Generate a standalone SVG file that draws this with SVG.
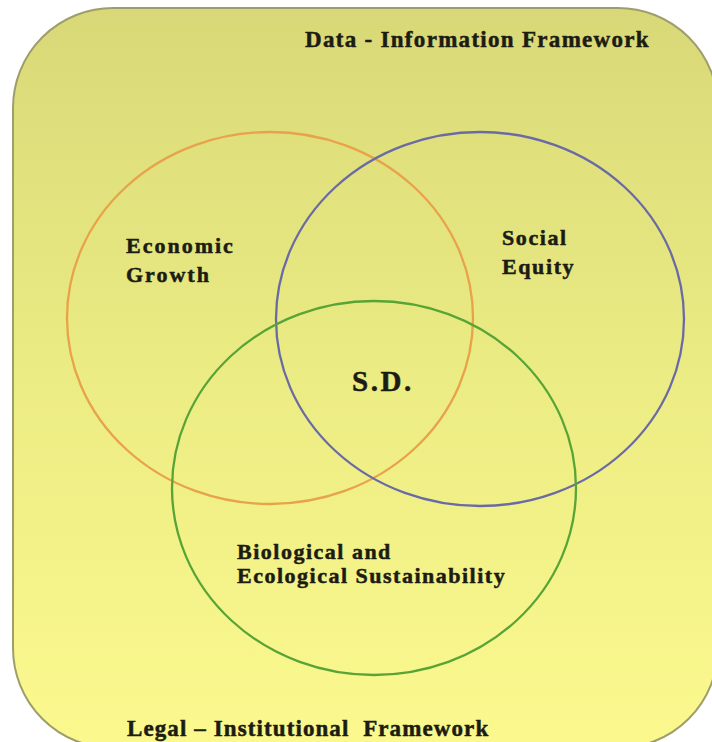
<svg xmlns="http://www.w3.org/2000/svg" width="712" height="742" viewBox="0 0 712 742">
  <defs>
    <linearGradient id="bg" x1="0" y1="0" x2="0" y2="1">
      <stop offset="0" stop-color="#d8d878"/>
      <stop offset="0.5" stop-color="#ecec84"/>
      <stop offset="1" stop-color="#fbf98e"/>
    </linearGradient>
  </defs>
  <style>
    .lbl { font-family: "Liberation Serif", "Times New Roman", serif; font-weight: bold; fill: #1c1c12; stroke: #1c1c12; stroke-width: 0.5; }
    .ring { fill: none; stroke-width: 2.3; }
  </style>
  <rect width="712" height="742" fill="#ffffff"/>
  <g id="frame">
    <rect x="13" y="8" width="705" height="740" rx="100" ry="100" fill="url(#bg)" stroke="#9e9e6c" stroke-width="2"/>
    <text class="lbl" x="305" y="47" font-size="23" letter-spacing="1.3">Data - Information Framework</text>
    <text class="lbl" x="127" y="736" font-size="23" letter-spacing="1.1" xml:space="preserve">Legal – Institutional  Framework</text>
  </g>
  <g id="connectors"></g>
  <g id="economic">
    <ellipse class="ring" cx="270" cy="318" rx="203" ry="186" stroke="#e8a24a"/>
    <text class="lbl" font-size="22" letter-spacing="2"><tspan x="126" y="253">Economic</tspan><tspan x="126" y="282">Growth</tspan></text>
  </g>
  <g id="social">
    <ellipse class="ring" cx="480" cy="319" rx="204" ry="187" stroke="#6a6aa6"/>
    <text class="lbl" font-size="22" letter-spacing="1.6"><tspan x="502" y="245">Social</tspan><tspan x="502" y="274">Equity</tspan></text>
  </g>
  <g id="ecological">
    <ellipse class="ring" cx="374" cy="488" rx="202" ry="187" stroke="#58a436"/>
    <text class="lbl" font-size="22" letter-spacing="1.5"><tspan x="237" y="559">Biological and</tspan><tspan x="237" y="583">Ecological Sustainability</tspan></text>
  </g>
  <g id="sd">
    <text class="lbl" x="352" y="391" font-size="29" letter-spacing="2.6">S.D.</text>
  </g>
</svg>
